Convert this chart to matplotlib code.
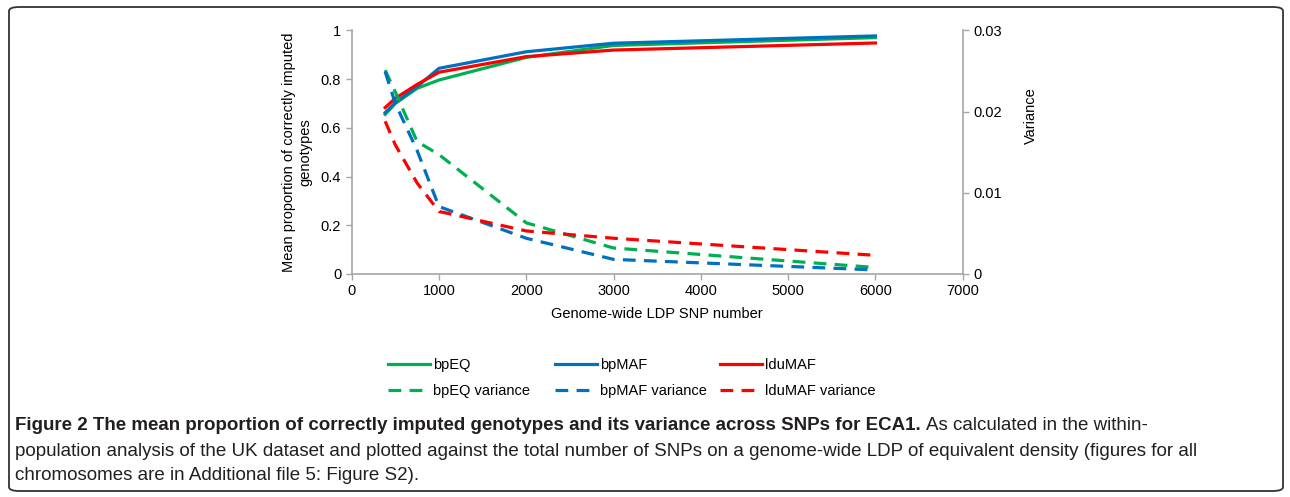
import matplotlib
matplotlib.use("Agg")
import matplotlib.pyplot as plt
from matplotlib.lines import Line2D
from matplotlib.patches import FancyBboxPatch

plt.rcParams['font.family'] = ['Liberation Sans', 'DejaVu Sans']

# SNP numbers on the genome-wide LDP
snp_number = [384, 500, 750, 1000, 2000, 3000, 6000]

# mean proportion of correctly imputed genotypes
bpEQ = [0.655, 0.700, 0.762, 0.796, 0.889, 0.938, 0.970]
bpMAF = [0.662, 0.703, 0.769, 0.844, 0.912, 0.947, 0.977]
lduMAF = [0.683, 0.721, 0.778, 0.828, 0.892, 0.919, 0.948]

# variance across SNPs
bpEQ_var = [0.0251, 0.0224, 0.0163, 0.0147, 0.0063, 0.0032, 0.0008]
bpMAF_var = [0.0249, 0.0210, 0.0152, 0.0083, 0.0044, 0.0018, 0.0005]
lduMAF_var = [0.0188, 0.0159, 0.0112, 0.0077, 0.0053, 0.0044, 0.0023]

green, blue, red = '#00b050', '#0070c0', '#ff0000'
grey = '#a6a6a6'

fig = plt.figure(figsize=(12.9, 4.97), dpi=100)
ax = fig.add_axes([0.2726, 0.4487, 0.4737, 0.4903])
ax2 = ax.twinx()

lw = 2.3
dash = (4, 2.6)
ax.plot(snp_number, bpEQ, color=green, lw=lw)
ax.plot(snp_number, bpMAF, color=blue, lw=lw)
ax.plot(snp_number, lduMAF, color=red, lw=lw)
ax2.plot(snp_number, bpEQ_var, color=green, lw=lw, dashes=dash)
ax2.plot(snp_number, bpMAF_var, color=blue, lw=lw, dashes=dash)
ax2.plot(snp_number, lduMAF_var, color=red, lw=lw, dashes=dash)

ax.set_xlim(0, 7000)
ax.set_ylim(0, 1)
ax2.set_ylim(0, 0.03)
ax.set_xticks(range(0, 7001, 1000))
ax.set_yticks([0, 0.2, 0.4, 0.6, 0.8, 1])
ax.set_yticklabels(['0', '0.2', '0.4', '0.6', '0.8', '1'])
ax2.set_yticks([0, 0.01, 0.02, 0.03])
ax2.set_yticklabels(['0', '0.01', '0.02', '0.03'])

for a in (ax, ax2):
    a.spines['top'].set_visible(False)
    for s in ('left', 'right', 'bottom'):
        a.spines[s].set_color(grey)
        a.spines[s].set_linewidth(1.2)
    a.tick_params(colors=grey, labelcolor='black', labelsize=10.5, length=4, width=1)
ax.spines['right'].set_visible(False)
ax2.spines['left'].set_visible(False)
ax2.spines['bottom'].set_visible(False)

ax.set_xlabel('Genome-wide LDP SNP number', fontsize=10.5, labelpad=6)
ax.set_ylabel('Mean proportion of correctly imputed\ngenotypes', fontsize=10.5, labelpad=6)
ax2.set_ylabel('Variance', fontsize=10.5, labelpad=8)
ax2.yaxis.set_label_coords(1.1, 0.65)

# legend: one small legend per column, to place each column like the original
legend_cols = [
    (388, green, 'bpEQ'),
    (555, blue, 'bpMAF'),
    (720, red, 'lduMAF'),
]
for x_px, col, name in legend_cols:
    hs = [Line2D([], [], color=col, lw=lw), Line2D([], [], color=col, lw=lw, dashes=dash)]
    fig.legend(hs, [name, name + ' variance'], loc='upper left',
               bbox_to_anchor=(x_px / 1290, 1 - 358 / 497), frameon=False, fontsize=10.5,
               handlelength=2.9, handletextpad=0.2, labelspacing=0.8, borderaxespad=0,
               borderpad=0)

# caption
cap_font = ['Liberation Sans Narrow', 'Liberation Sans', 'DejaVu Sans']
cap_size = 13.5
y1 = 1 - 425 / 497
t = fig.text(15 / 1290, y1, 'Figure 2 The mean proportion of correctly imputed genotypes and its variance across SNPs for ECA1.',
             fontsize=cap_size, fontweight='bold', family=cap_font, va='center', color='#231f20')
fig.canvas.draw()
bb = t.get_window_extent()
fig.text((bb.x1 + 5) / 1290, y1, 'As calculated in the within-', fontsize=cap_size, family=cap_font,
         va='center', color='#231f20')
fig.text(15 / 1290, 1 - 451 / 497,
         'population analysis of the UK dataset and plotted against the total number of SNPs on a genome-wide LDP of equivalent density (figures for all',
         fontsize=cap_size, family=cap_font, va='center', color='#231f20')
fig.text(15 / 1290, 1 - 476 / 497, 'chromosomes are in Additional file 5: Figure S2).',
         fontsize=cap_size, family=cap_font, va='center', color='#231f20')

# rounded frame around the figure
frame = FancyBboxPatch((9 / 1290, 6 / 497), 1274 / 1290, 484 / 497,
                       boxstyle='round,pad=0,rounding_size=0.008', transform=fig.transFigure,
                       fill=False, edgecolor='#333333', lw=1.3)
fig.patches.append(frame)

fig.savefig('out.png', dpi=100)
